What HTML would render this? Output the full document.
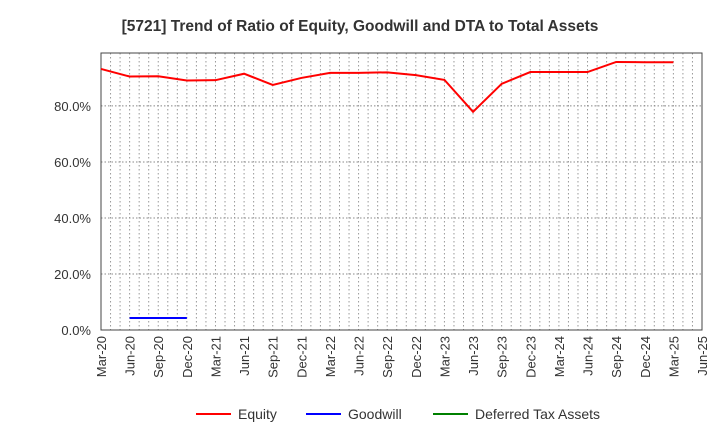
<!DOCTYPE html>
<html><head><meta charset="utf-8"><style>
body{margin:0;background:#fff;font-family:"Liberation Sans",sans-serif}
</style></head><body>
<svg id="c" width="720" height="440" xmlns="http://www.w3.org/2000/svg"></svg>
<script>
const categories=["Mar-20","Jun-20","Sep-20","Dec-20","Mar-21","Jun-21","Sep-21","Dec-21","Mar-22","Jun-22","Sep-22","Dec-22","Mar-23","Jun-23","Sep-23","Dec-23","Mar-24","Jun-24","Sep-24","Dec-24","Mar-25","Jun-25"];
const equity=[93.2,90.5,90.6,89.1,89.2,91.5,87.5,90.0,91.8,91.8,92.0,91.0,89.3,77.9,87.9,92.1,92.1,92.1,95.7,95.6,95.6,null];
const goodwill=[null,4.3,4.3,4.3,null,null,null,null,null,null,null,null,null,null,null,null,null,null,null,null,null,null];
const dta=[];
const yTicks=[0,20,40,60,80];
const yTickLabels=["0.0%","20.0%","40.0%","60.0%","80.0%"];
const L=101,R=702,T=53,B=330,YMAX=98.9;
const ns="http://www.w3.org/2000/svg",svg=document.getElementById("c");
const x=i=>L+i*(R-L)/(categories.length-1);
const y=v=>B-v/YMAX*(B-T);
function mk(t,a,txt){const e=document.createElementNS(ns,t);for(const k in a)e.setAttribute(k,a[k]);if(txt!=null)e.textContent=txt;svg.appendChild(e);return e;}
let e=mk("text",{x:360,y:31,"text-anchor":"middle","font-size":15.5,"font-weight":"bold",fill:"#333"},"[5721]  Trend of Ratio of Equity, Goodwill and DTA to Total Assets");


for(let m=1;m<(categories.length-1)*3;m++){const xx=L+m*(R-L)/((categories.length-1)*3);
e=mk("line",{x1:xx,x2:xx,y1:T,y2:B,stroke:"#999","stroke-dasharray":"1.5,2.5","stroke-width":1});

}
yTicks.forEach((v,i)=>{if(v>0){e=mk("line",{x1:L,x2:R,y1:y(v),y2:y(v),stroke:"#888","stroke-dasharray":"1.5,2","stroke-width":1});

}
e=mk("text",{x:L-10,y:y(v)+5,"text-anchor":"end","font-size":13,fill:"#333"},yTickLabels[i]);

});
categories.forEach((c,i)=>{e=mk("text",{transform:`translate(${x(i)+5},${B+6}) rotate(-90)`,"text-anchor":"end","font-size":13,fill:"#333"},c);

});
e=mk("rect",{x:L,y:T,width:R-L,height:B-T,fill:"none",stroke:"#444","stroke-width":1});


function line(arr,col,name){let d="",pen=false;arr.forEach((v,i)=>{if(v==null){pen=false;return;}d+=(pen?"L":"M")+x(i)+","+y(v);pen=true;});
if(!d)return;e=mk("path",{d:d,fill:"none",stroke:col,"stroke-width":2});

}
line(equity,"#ff0000","equity-line");line(goodwill,"#0000ff","goodwill-line");line(dta,"#008000","dta-line");
[["Equity","#ff0000",196],["Goodwill","#0000ff",306],["Deferred Tax Assets","#008000",433]].forEach(([n,c,lx])=>{
e=mk("line",{x1:lx,x2:lx+35,y1:414,y2:414,stroke:c,"stroke-width":2});


e=mk("text",{x:lx+42,y:419,"font-size":14,fill:"#333"},n);

});
</script>
</body></html>
